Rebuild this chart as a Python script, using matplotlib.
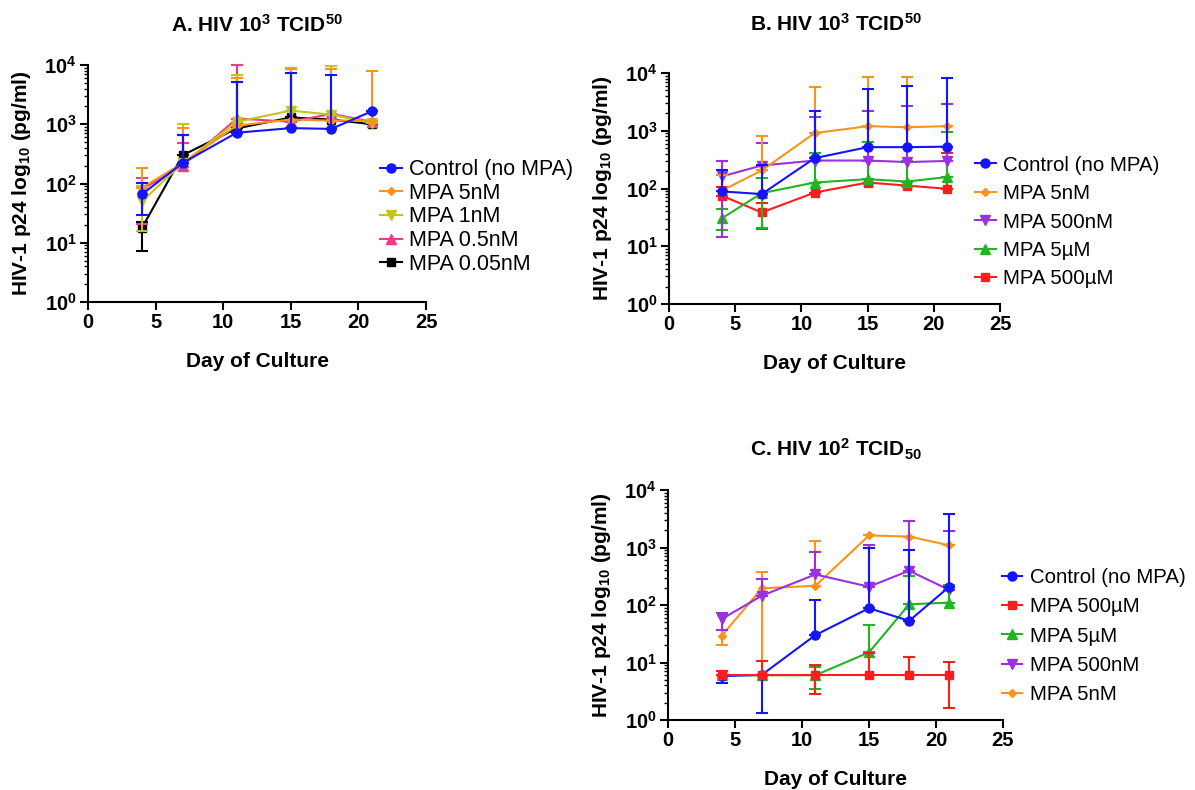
import numpy as np
import matplotlib
matplotlib.use("Agg")
import matplotlib.pyplot as plt
from matplotlib.ticker import FuncFormatter, LogLocator, MultipleLocator, NullFormatter

plt.rcParams['font.family'] = ['Liberation Sans', 'DejaVu Sans']
plt.rcParams['mathtext.fontset'] = 'custom'
plt.rcParams['mathtext.rm'] = 'Liberation Sans'
plt.rcParams['mathtext.bf'] = 'Liberation Sans:bold'
plt.rcParams['mathtext.default'] = 'bf'

# jours de prélèvement
days = [4, 7, 11, 15, 18, 21]

# Panneau A : HIV 10^3 TCID50 (moyenne, borne basse, borne haute)
a_ctrl = [66, 222, 720, 860, 835, 1660]
a_ctrl_lo = [29, 222, 720, 860, 835, 1660]
a_ctrl_hi = [102, 660, 5100, 7200, 6900, 1660]
a_5nm = [85, 220, 950, 1200, 1150, 1150]
a_5nm_lo = [85, 220, 950, 1200, 1150, 1150]
a_5nm_hi = [180, 850, 6000, 8500, 8500, 8000]
a_1nm = [50, 220, 1100, 1700, 1450, 1050]
a_1nm_lo = [15.5, 220, 1100, 1700, 1450, 1050]
a_1nm_hi = [90, 1000, 6800, 9000, 9500, 1050]
a_05nm = [80, 200, 1250, 1100, 1500, 1100]
a_05nm_lo = [21, 190, 1250, 1100, 1500, 1100]
a_05nm_hi = [125, 480, 10000, 8800, 1500, 1100]
a_005nm = [18, 300, 850, 1300, 1200, 1000]
a_005nm_lo = [7.2, 300, 850, 1300, 1200, 1000]
a_005nm_hi = [22, 660, 5200, 8800, 1200, 1000]

# Panneau B : HIV 10^3 TCID50
b_ctrl = [89, 80, 335, 520, 520, 530]
b_ctrl_lo = [89, 80, 335, 520, 520, 530]
b_ctrl_hi = [210, 257, 2170, 5300, 6000, 8300]
b_5nm = [92, 205, 910, 1200, 1150, 1200]
b_5nm_lo = [92, 205, 910, 1200, 1150, 1200]
b_5nm_hi = [170, 800, 5700, 8500, 8500, 1200]
b_500nm = [162, 250, 305, 305, 287, 300]
b_500nm_lo = [14.7, 250, 305, 305, 287, 300]
b_500nm_hi = [300, 625, 1700, 2200, 2700, 2950]
b_5um = [30.5, 83, 127, 145, 132, 158]
b_5um_lo = [19, 20.5, 127, 145, 132, 158]
b_5um_hi = [44, 155, 420, 650, 300, 935]
b_500um = [75, 38.5, 85, 127, 112, 99]
b_500um_lo = [75, 20, 85, 127, 112, 99]
b_500um_hi = [108, 55, 85, 127, 112, 410]

# Panneau C : HIV 10^2 TCID50
c_ctrl = [5.8, 6.1, 30, 88, 53, 209]
c_ctrl_lo = [4.4, 1.3, 30, 88, 53, 209]
c_ctrl_hi = [7.2, 6.1, 122, 970, 910, 3900]
c_500um = [6, 6, 6, 6, 6, 6]
c_500um_lo = [6, 6, 2.8, 6, 6, 1.6]
c_500um_hi = [7, 10.5, 9, 14.5, 12.6, 10.3]
c_5um = [6, 6, 6, 15, 103, 110]
c_5um_lo = [6, 6, 3.4, 15, 103, 110]
c_5um_hi = [6, 6, 8.5, 45, 318, 223]
c_500nm = [57, 145, 340, 208, 395, 182]
c_500nm_lo = [37, 145, 340, 208, 395, 182]
c_500nm_hi = [72, 283, 850, 1100, 2880, 1900]
c_5nm = [29, 195, 216, 1620, 1550, 1090]
c_5nm_lo = [20, 10.8, 216, 1620, 1550, 1090]
c_5nm_hi = [37, 380, 1320, 1620, 1550, 1090]

BLUE = '#1414ff'
ORANGE = '#f7941d'
YELLOW = '#c4c41a'
PINK = '#ec3c8c'
BLACK = '#000000'
PURPLE = '#9b30e0'
GREEN = '#22b522'
RED = '#ff1c1c'


def draw_series(ax, vals, lo, hi, color, marker, label, z, ms=6.5):
    vals = np.array(vals, dtype=float)
    yerr = [vals - np.array(lo), np.array(hi) - vals]
    ax.errorbar(days, vals, yerr=yerr, fmt='none', ecolor=color, elinewidth=1.5,
                capsize=4, capthick=1.5, zorder=z, clip_on=False)
    ax.plot(days, vals, color=color, marker=marker, ms=ms, lw=1.5, label=label,
            zorder=z + 0.5, clip_on=False)


def style_axes(ax):
    ax.set_xlim(0, 25)
    ax.set_yscale('log')
    ax.set_ylim(1, 1e4)
    ax.xaxis.set_major_locator(MultipleLocator(5))
    ax.yaxis.set_major_locator(LogLocator(base=10, numticks=10))
    ax.yaxis.set_minor_locator(LogLocator(base=10, subs=np.arange(2, 10), numticks=10))
    ax.yaxis.set_minor_formatter(NullFormatter())
    ax.yaxis.set_major_formatter(FuncFormatter(lambda v, p: r'$\mathbf{10^{%d}}$' % round(np.log10(v))))
    ax.xaxis.set_major_formatter(FuncFormatter(lambda v, p: '%d' % v))
    for s in ['top', 'right']:
        ax.spines[s].set_visible(False)
    for s in ['left', 'bottom']:
        ax.spines[s].set_linewidth(1.5)
    ax.tick_params(which='major', direction='out', length=6, width=1.5, labelsize=14.5, pad=2)
    ax.tick_params(which='minor', direction='out', length=3, width=1)
    for lab in ax.get_xticklabels():
        lab.set_fontweight('bold')
    ax.set_xlabel('Day of Culture', fontsize=15, fontweight='bold', labelpad=14)
    ax.set_ylabel(r'HIV-1 p24 log$_{\mathbf{10}}$ (pg/ml)', fontsize=15, fontweight='bold', labelpad=8)


fig = plt.figure(figsize=(11.95, 7.9), dpi=100)
W, H = 1195.0, 790.0

axA = fig.add_axes([88 / W, 1 - 302 / H, 338 / W, 237 / H])
axB = fig.add_axes([669 / W, 1 - 304 / H, 331 / W, 231 / H])
axC = fig.add_axes([668 / W, 1 - 720 / H, 335 / W, 230 / H])

# A
draw_series(axA, a_005nm, a_005nm_lo, a_005nm_hi, BLACK, 's', 'MPA 0.05nM', 2, ms=6)
draw_series(axA, a_05nm, a_05nm_lo, a_05nm_hi, PINK, '^', 'MPA 0.5nM', 3)
draw_series(axA, a_1nm, a_1nm_lo, a_1nm_hi, YELLOW, 'v', 'MPA 1nM', 4)
draw_series(axA, a_5nm, a_5nm_lo, a_5nm_hi, ORANGE, 'D', 'MPA 5nM', 5, ms=4.5)
draw_series(axA, a_ctrl, a_ctrl_lo, a_ctrl_hi, BLUE, 'o', 'Control (no MPA)', 6)

# B
draw_series(axB, b_500um, b_500um_lo, b_500um_hi, RED, 's', 'MPA 500µM', 2, ms=6)
draw_series(axB, b_5um, b_5um_lo, b_5um_hi, GREEN, '^', 'MPA 5µM', 3)
draw_series(axB, b_500nm, b_500nm_lo, b_500nm_hi, PURPLE, 'v', 'MPA 500nM', 4)
draw_series(axB, b_5nm, b_5nm_lo, b_5nm_hi, ORANGE, 'D', 'MPA 5nM', 5, ms=4.5)
draw_series(axB, b_ctrl, b_ctrl_lo, b_ctrl_hi, BLUE, 'o', 'Control (no MPA)', 6)

# C
draw_series(axC, c_5nm, c_5nm_lo, c_5nm_hi, ORANGE, 'D', 'MPA 5nM', 2, ms=4.5)
draw_series(axC, c_500nm, c_500nm_lo, c_500nm_hi, PURPLE, 'v', 'MPA 500nM', 3)
draw_series(axC, c_5um, c_5um_lo, c_5um_hi, GREEN, '^', 'MPA 5µM', 4)
draw_series(axC, c_ctrl, c_ctrl_lo, c_ctrl_hi, BLUE, 'o', 'Control (no MPA)', 5)
draw_series(axC, c_500um, c_500um_lo, c_500um_hi, RED, 's', 'MPA 500µM', 6, ms=6)

for ax in (axA, axB, axC):
    style_axes(ax)


def add_legend(ax, order, x, y, size, spacing):
    h, l = ax.get_legend_handles_labels()
    d = dict(zip(l, h))
    ax.legend([d[k] for k in order], order, loc='center left',
              bbox_to_anchor=(x / W, 1 - y / H), bbox_transform=fig.transFigure,
              frameon=False, fontsize=size, handlelength=1.0, handletextpad=0.35,
              borderpad=0, borderaxespad=0, labelspacing=spacing)


add_legend(axA, ['Control (no MPA)', 'MPA 5nM', 'MPA 1nM', 'MPA 0.5nM', 'MPA 0.05nM'],
           380, 217, 15.5, 0.12)
add_legend(axB, ['Control (no MPA)', 'MPA 5nM', 'MPA 500nM', 'MPA 5µM', 'MPA 500µM'],
           975, 222, 14.8, 0.46)
add_legend(axC, ['Control (no MPA)', 'MPA 500µM', 'MPA 5µM', 'MPA 500nM', 'MPA 5nM'],
           1002, 636, 14.7, 0.51)

fig.text(257 / W, 1 - 25 / H, r'A. HIV 10$^{3}$ TCID$^{50}$', ha='center', va='center',
         fontsize=15, fontweight='bold')
fig.text(836 / W, 1 - 24 / H, r'B. HIV 10$^{3}$ TCID$^{50}$', ha='center', va='center',
         fontsize=15, fontweight='bold')
fig.text(836 / W, 1 - 449 / H, r'C. HIV 10$^{2}$ TCID$_{50}$', ha='center', va='center',
         fontsize=15, fontweight='bold')

fig.savefig('out.png', dpi=100)
